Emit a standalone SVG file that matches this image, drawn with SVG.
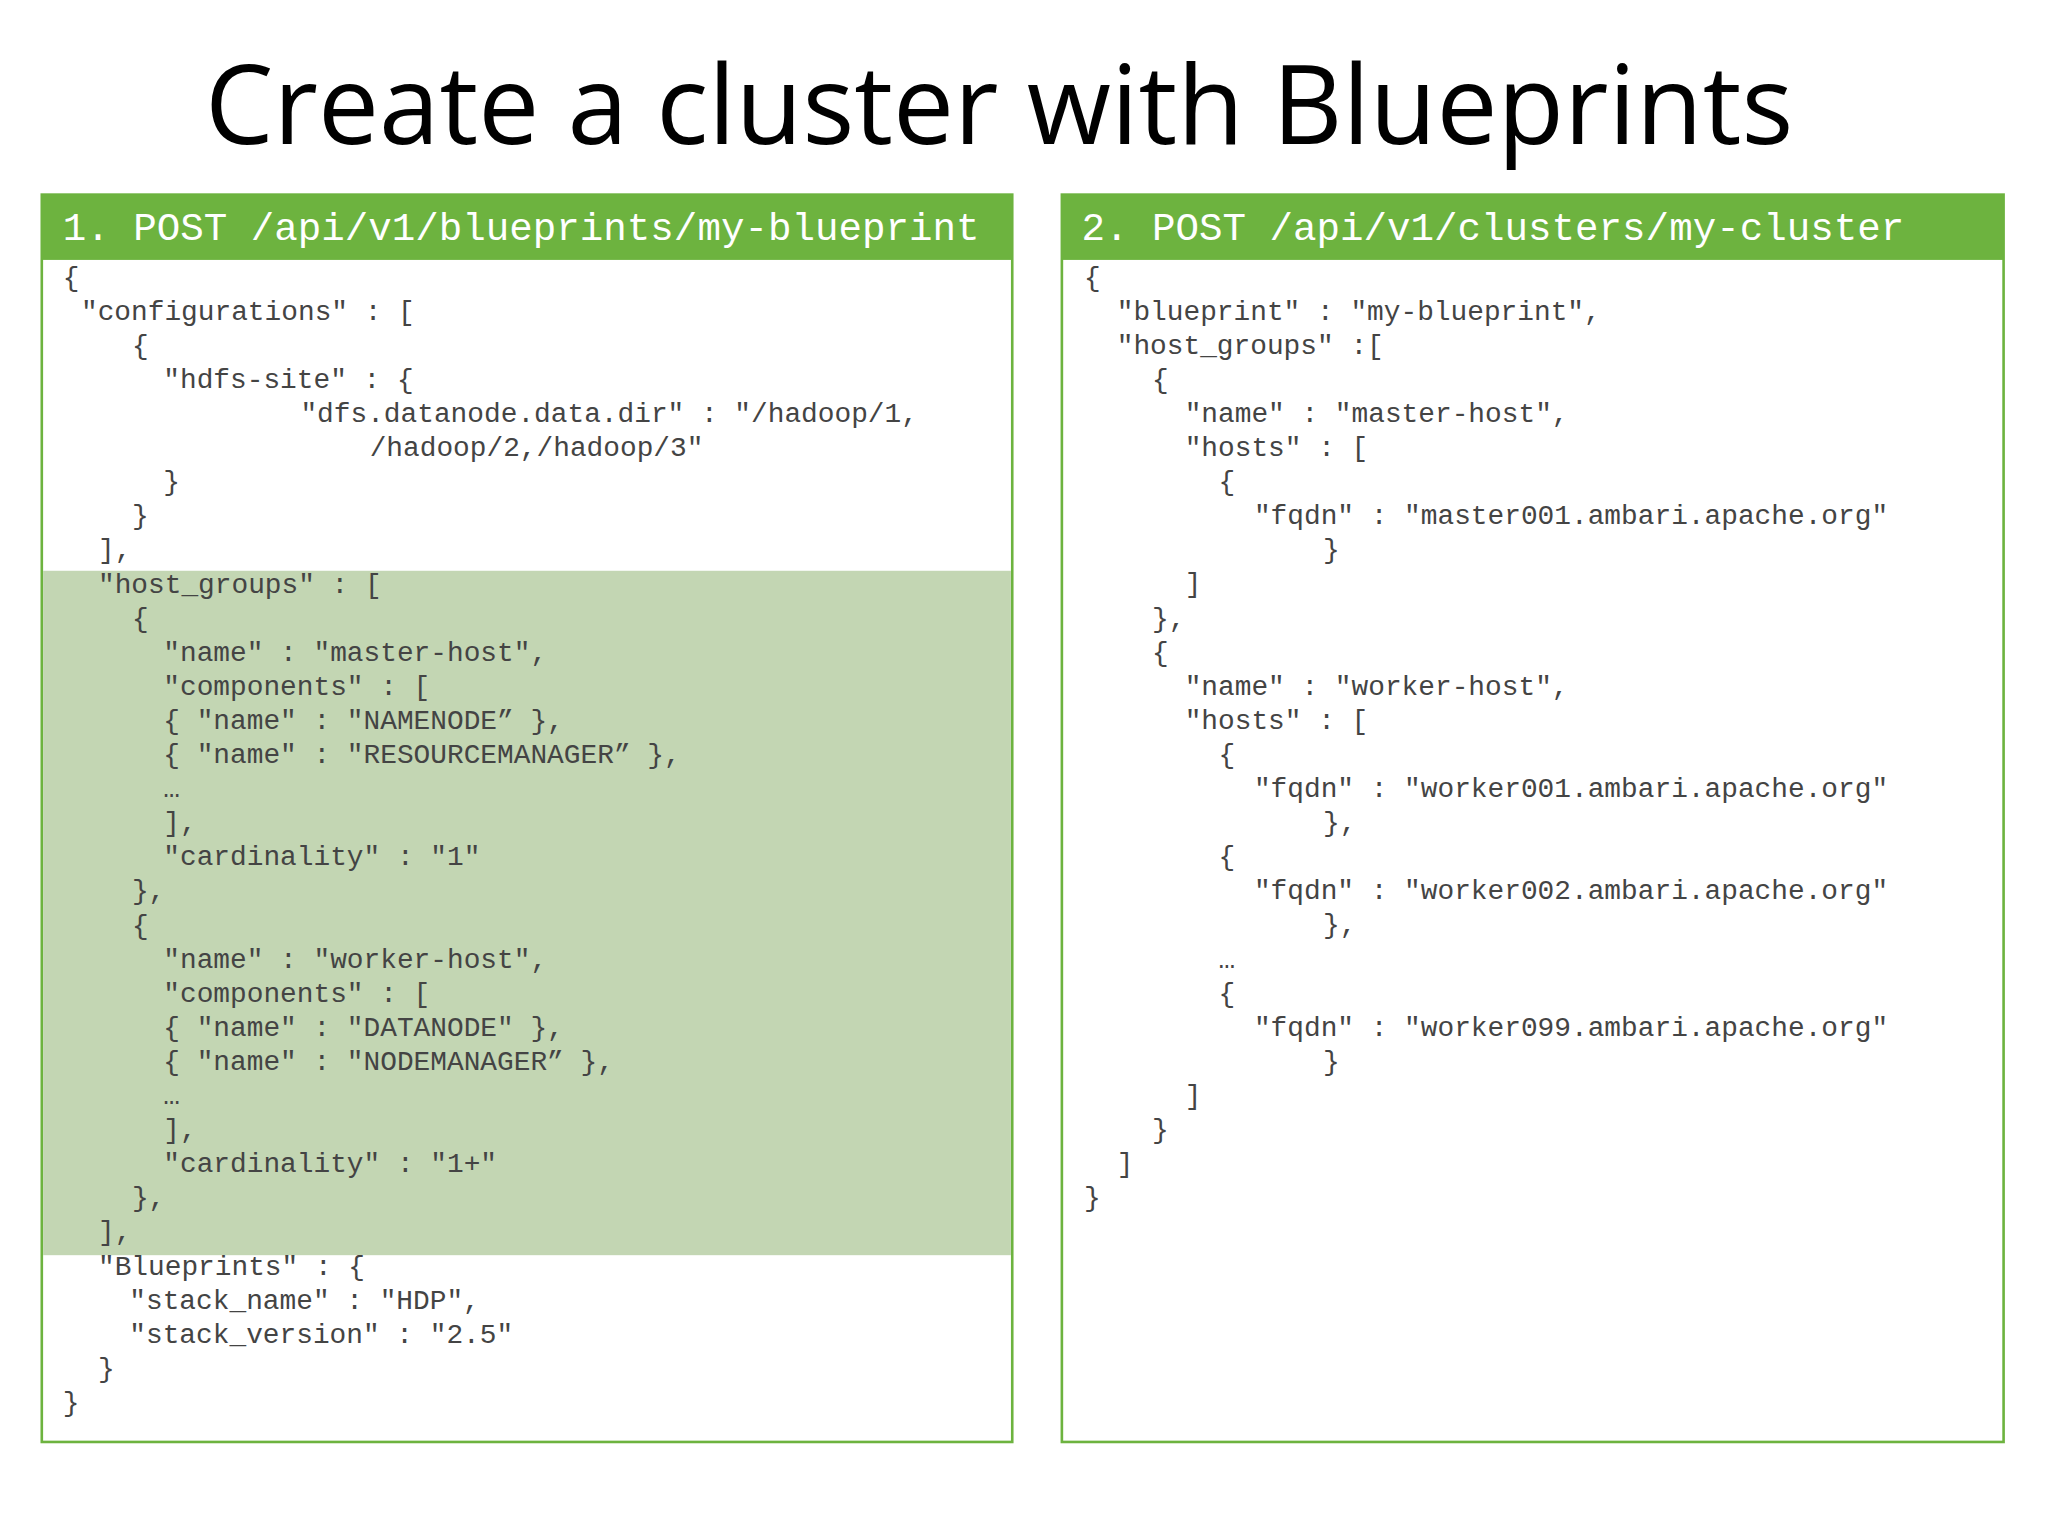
<svg xmlns="http://www.w3.org/2000/svg" width="2048" height="1536" viewBox="0 0 2048 1536">
<style>
.c{font-family:"Liberation Mono","Courier New",monospace;font-size:21.3px;fill:#444;white-space:pre}
.h{font-family:"Liberation Mono","Courier New",monospace;font-size:30px;fill:#fff;white-space:pre}
.t{font-family:"Open Sans","Liberation Sans",sans-serif;font-size:84px;fill:#000}
.box{fill:#fff;stroke:#6db33f;stroke-width:2}
.hd{fill:#6db33f}
</style>
<rect width="2048" height="1536" fill="#fff"/>
<g transform="scale(1.30612)">
<text class="t" x="765" y="110" text-anchor="middle" textLength="1216" lengthAdjust="spacingAndGlyphs">Create a cluster with Blueprints</text>
<g id="blueprint">
<rect class="box" x="32" y="149" width="743" height="955"/>
<rect x="33" y="437" width="741" height="524" fill="#c3d6b3"/>
<rect class="hd" x="32" y="149" width="743" height="50"/>
<text class="h" x="48" y="184">1. POST /api/v1/blueprints/my-blueprint</text>
<text class="c" x="48" y="219">{</text>
<text class="c" x="62" y="245">"configurations" : [</text>
<text class="c" x="101" y="271">{</text>
<text class="c" x="125" y="297">"hdfs-site" : {</text>
<text class="c" x="230" y="323">"dfs.datanode.data.dir" : "/hadoop/1,</text>
<text class="c" x="283" y="349">/hadoop/2,/hadoop/3"</text>
<text class="c" x="125" y="375">}</text>
<text class="c" x="101" y="401">}</text>
<text class="c" x="75" y="427">],</text>
<text class="c" x="75" y="454">"host_groups" : [</text>
<text class="c" x="101" y="480">{</text>
<text class="c" x="125" y="506">"name" : "master-host",</text>
<text class="c" x="125" y="532">"components" : [</text>
<text class="c" x="125" y="558">{ "name" : "NAMENODE” },</text>
<text class="c" x="125" y="584">{ "name" : "RESOURCEMANAGER” },</text>
<text class="c" x="125" y="610">…</text>
<text class="c" x="125" y="636">],</text>
<text class="c" x="125" y="662">"cardinality" : "1"</text>
<text class="c" x="101" y="688">},</text>
<text class="c" x="101" y="715">{</text>
<text class="c" x="125" y="741">"name" : "worker-host",</text>
<text class="c" x="125" y="767">"components" : [</text>
<text class="c" x="125" y="793">{ "name" : "DATANODE" },</text>
<text class="c" x="125" y="819">{ "name" : "NODEMANAGER” },</text>
<text class="c" x="125" y="845">…</text>
<text class="c" x="125" y="871">],</text>
<text class="c" x="125" y="897">"cardinality" : "1+"</text>
<text class="c" x="101" y="923">},</text>
<text class="c" x="75" y="949">],</text>
<text class="c" x="75" y="976">"Blueprints" : {</text>
<text class="c" x="99" y="1002">"stack_name" : "HDP",</text>
<text class="c" x="99" y="1028">"stack_version" : "2.5"</text>
<text class="c" x="75" y="1054">}</text>
<text class="c" x="48" y="1080">}</text>
</g>
<g id="cluster">
<rect class="box" x="813" y="149" width="721" height="955"/>
<rect class="hd" x="813" y="149" width="721" height="50"/>
<text class="h" x="828" y="184">2. POST /api/v1/clusters/my-cluster</text>
<text class="c" x="830" y="219">{</text>
<text class="c" x="855" y="245">"blueprint" : "my-blueprint",</text>
<text class="c" x="855" y="271">"host_groups" :[</text>
<text class="c" x="882" y="297">{</text>
<text class="c" x="907" y="323">"name" : "master-host",</text>
<text class="c" x="907" y="349">"hosts" : [</text>
<text class="c" x="933" y="375">{</text>
<text class="c" x="960" y="401">"fqdn" : "master001.ambari.apache.org"</text>
<text class="c" x="1013" y="427">}</text>
<text class="c" x="907" y="453">]</text>
<text class="c" x="882" y="480">},</text>
<text class="c" x="882" y="506">{</text>
<text class="c" x="907" y="532">"name" : "worker-host",</text>
<text class="c" x="907" y="558">"hosts" : [</text>
<text class="c" x="933" y="584">{</text>
<text class="c" x="960" y="610">"fqdn" : "worker001.ambari.apache.org"</text>
<text class="c" x="1013" y="636">},</text>
<text class="c" x="933" y="662">{</text>
<text class="c" x="960" y="688">"fqdn" : "worker002.ambari.apache.org"</text>
<text class="c" x="1013" y="714">},</text>
<text class="c" x="933" y="741">…</text>
<text class="c" x="933" y="767">{</text>
<text class="c" x="960" y="793">"fqdn" : "worker099.ambari.apache.org"</text>
<text class="c" x="1013" y="819">}</text>
<text class="c" x="907" y="845">]</text>
<text class="c" x="882" y="871">}</text>
<text class="c" x="855" y="897">]</text>
<text class="c" x="830" y="923">}</text>
</g>
</g>
</svg>
